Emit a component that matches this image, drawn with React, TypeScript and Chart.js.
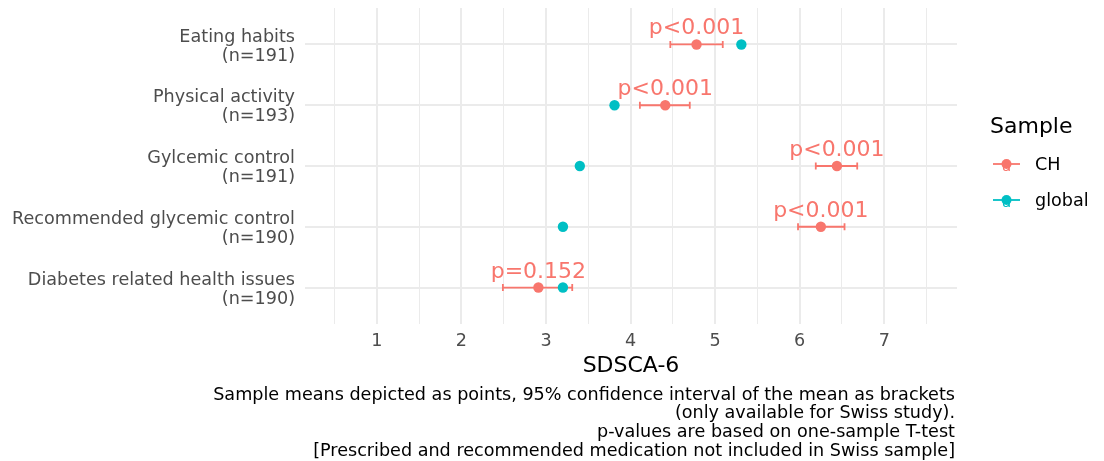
import React, { useEffect, useRef } from "react";
import { Chart, registerables } from "chart.js";

Chart.register(...registerables);

const categories = [
  "Eating habits",
  "Physical activity",
  "Gylcemic control",
  "Recommended glycemic control",
  "Diabetes related health issues",
];
const nLabels = ["(n=191)", "(n=193)", "(n=191)", "(n=190)", "(n=190)"];
const chMean = [4.78, 4.41, 6.44, 6.25, 2.91];
const chLow = [4.47, 4.11, 6.19, 5.98, 2.49];
const chHigh = [5.09, 4.7, 6.68, 6.53, 3.31];
const globalMean = [5.31, 3.81, 3.4, 3.2, 3.2];
const pLabels = ["p<0.001", "p<0.001", "p<0.001", "p<0.001", "p=0.152"];
const xTickLabels = [1, 2, 3, 4, 5, 6, 7];
const xGridValues = [0.5, 1, 1.5, 2, 2.5, 3, 3.5, 4, 4.5, 5, 5.5, 6, 6.5, 7, 7.5];
const seriesNames = ["CH", "global"];
const captionLines = [
  "Sample means depicted as points, 95% confidence interval of the mean as brackets",
  "(only available for Swiss study).",
  "p-values are based on one-sample T-test",
  "[Prescribed and recommended medication not included in Swiss sample]",
];

const CH_COLOR = "#F8766D";
const GLOBAL_COLOR = "#00BFC4";
const FONT = "'DejaVu Sans', sans-serif";

export default function App() {
  const ref = useRef<HTMLCanvasElement | null>(null);

  useEffect(() => {
    const canvas = ref.current;
    if (!canvas) return;

    const overlay = {
      id: "overlay",
      beforeDatasetsDraw(chart: any) {
        const ctx = chart.ctx;
        const xs = chart.scales.x;
        const ys = chart.scales.y;
        ctx.save();
        ctx.strokeStyle = CH_COLOR;
        ctx.lineWidth = 1.8;
        categories.forEach((_, i) => {
          const y = ys.getPixelForValue(i);
          const x1 = xs.getPixelForValue(chLow[i]);
          const x2 = xs.getPixelForValue(chHigh[i]);
          ctx.beginPath();
          ctx.moveTo(x1, y);
          ctx.lineTo(x2, y);
          ctx.moveTo(x1, y - 3.5);
          ctx.lineTo(x1, y + 3.5);
          ctx.moveTo(x2, y - 3.5);
          ctx.lineTo(x2, y + 3.5);
          ctx.stroke();
        });
        ctx.restore();
      },
      afterDatasetsDraw(chart: any) {
        const ctx = chart.ctx;
        const xs = chart.scales.x;
        const ys = chart.scales.y;
        ctx.save();
        ctx.fillStyle = CH_COLOR;
        ctx.font = `22px ${FONT}`;
        ctx.textAlign = "center";
        ctx.textBaseline = "alphabetic";
        categories.forEach((_, i) => {
          const y = ys.getPixelForValue(i);
          const x = xs.getPixelForValue(chMean[i]);
          ctx.fillText(pLabels[i], x, y - 10);
        });
        ctx.restore();
      },
      afterDraw(chart: any) {
        const ctx = chart.ctx;
        const area = chart.chartArea;
        const ys = chart.scales.y;
        ctx.save();
        // y category labels
        ctx.fillStyle = "#4D4D4D";
        ctx.font = `17.6px ${FONT}`;
        ctx.textAlign = "right";
        ctx.textBaseline = "middle";
        categories.forEach((c, i) => {
          const y = ys.getPixelForValue(i);
          ctx.fillText(c, area.left - 10, y - 7.5);
          ctx.fillText(nLabels[i], area.left - 10, y + 11.5);
        });
        // x title
        ctx.fillStyle = "#000000";
        ctx.font = `22px ${FONT}`;
        ctx.textAlign = "center";
        ctx.fillText("SDSCA-6", (area.left + area.right) / 2, 366);
        // caption
        ctx.font = `17.6px ${FONT}`;
        ctx.textAlign = "right";
        captionLines.forEach((line, i) => {
          ctx.fillText(line, area.right - 2, 395 + i * 18.8);
        });
        // legend
        ctx.textAlign = "left";
        ctx.font = `22px ${FONT}`;
        ctx.fillText("Sample", 990, 127);
        const colors = [CH_COLOR, GLOBAL_COLOR];
        seriesNames.forEach((name, i) => {
          const y = 164 + i * 36;
          const c = colors[i];
          ctx.strokeStyle = c;
          ctx.lineWidth = 1.8;
          ctx.beginPath();
          ctx.moveTo(993, y);
          ctx.lineTo(1020, y);
          ctx.stroke();
          ctx.fillStyle = c;
          ctx.beginPath();
          ctx.arc(1006.5, y, 5, 0, Math.PI * 2);
          ctx.fill();
          ctx.font = `15px ${FONT}`;
          ctx.textAlign = "center";
          ctx.fillText("a", 1006.5, y + 3);
          ctx.fillStyle = "#000000";
          ctx.textAlign = "left";
          ctx.font = `17.6px ${FONT}`;
          ctx.fillText(name, 1035, y + 1);
        });
        ctx.restore();
      },
    };

    const chart = new Chart(canvas, {
      type: "scatter",
      data: {
        datasets: [
          {
            label: "global",
            data: globalMean.map((v, i) => ({ x: v, y: i })),
            backgroundColor: GLOBAL_COLOR,
            borderWidth: 0,
            pointRadius: 5.2,
            order: 0,
          },
          {
            label: "CH",
            data: chMean.map((v, i) => ({ x: v, y: i })),
            backgroundColor: CH_COLOR,
            borderWidth: 0,
            pointRadius: 5.2,
            order: 1,
          },
        ],
      },
      plugins: [overlay],
      options: {
        responsive: false,
        animation: false,
        layout: { padding: { top: 8, right: 147, left: 0, bottom: 0 } },
        plugins: {
          legend: { display: false },
          tooltip: { enabled: false },
          title: { display: false },
        },
        scales: {
          x: {
            type: "linear",
            min: 0.15,
            max: 7.86,
            border: { display: false },
            grid: {
              color: "#EBEBEB",
              lineWidth: (c: any) =>
                xTickLabels.includes(c.tick?.value) ? 2 : 1,
              drawTicks: false,
            },
            afterBuildTicks: (scale: any) => {
              scale.ticks = xGridValues.map((v) => ({ value: v }));
            },
            ticks: {
              autoSkip: false,
              maxRotation: 0,
              padding: 7,
              color: "#4D4D4D",
              font: { family: FONT, size: 17.6 },
              callback: (v: any) =>
                xTickLabels.includes(Number(v)) ? String(v) : "",
            },
            afterFit: (scale: any) => {
              scale.height = 461 - 324;
              scale.paddingLeft = 0;
              scale.paddingRight = 0;
            },
          },
          y: {
            type: "linear",
            min: -0.6,
            max: 4.6,
            reverse: true,
            border: { display: false },
            grid: { color: "#EBEBEB", lineWidth: 2, drawTicks: false },
            afterBuildTicks: (scale: any) => {
              scale.ticks = categories.map((_, i) => ({ value: i }));
            },
            ticks: { display: false },
            afterFit: (scale: any) => {
              scale.width = 305;
              scale.paddingTop = 0;
              scale.paddingBottom = 0;
            },
          },
        },
      },
    });

    return () => chart.destroy();
  }, []);

  return (
    <div style={{ position: "fixed", left: 0, top: 0, width: 1104, height: 461, background: "#fff" }}>
      <canvas ref={ref} width={1104} height={461} />
    </div>
  );
}
